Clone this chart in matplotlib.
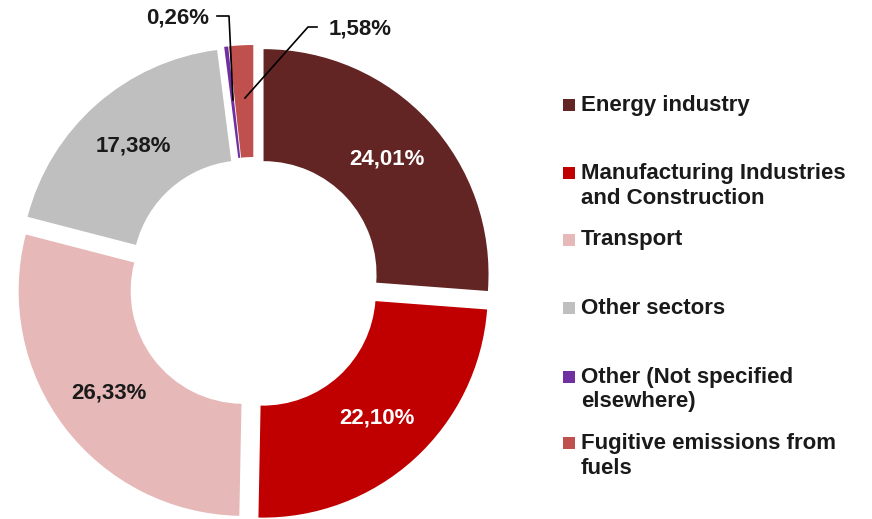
import matplotlib
matplotlib.use("Agg")
import matplotlib.pyplot as plt
from matplotlib.patches import Rectangle
import numpy as np

plt.rcParams['font.family'] = ['Liberation Sans', 'DejaVu Sans']

categories = ["Energy industry", "Manufacturing Industries\nand Construction", "Transport",
              "Other sectors", "Other (Not specified\nelsewhere)", "Fugitive emissions from\nfuels"]
values = [24.01, 22.10, 26.33, 17.38, 0.26, 1.58]
value_labels = ["24,01%", "22,10%", "26,33%", "17,38%", "0,26%", "1,58%"]
colors = ["#632523", "#C00000", "#E6B9B8", "#BFBFBF", "#7030A0", "#C0504D"]
label_colors = ["white", "white", "#1a1a1a", "#1a1a1a"]

W, H = 872, 519
fig = plt.figure(figsize=(W / 100, H / 100), dpi=100)
ax = fig.add_axes([0, 0, 1, 1])

R, r = 225, 113
wedges, _ = ax.pie(values, colors=colors, startangle=90, counterclock=False,
                   explode=[13] * len(values), radius=R, center=(254, H - 283),
                   wedgeprops=dict(width=R - r, linewidth=0))
ax.set_xlim(0, W)
ax.set_ylim(0, H)
ax.set_aspect('equal')
ax.axis('off')

# in-ring labels for the large slices
rmid = (R + r) / 2
for w, lab, c in zip(wedges[:4], value_labels[:4], label_colors):
    tm = np.deg2rad((w.theta1 + w.theta2) / 2)
    cx, cy = w.center
    ax.text(cx + rmid * np.cos(tm), cy + rmid * np.sin(tm), lab, color=c,
            fontsize=16, fontweight='bold', ha='center', va='center')

# leader-line labels for the small slices
ax.text(178, H - 18, value_labels[4], fontsize=16, fontweight='bold',
        ha='center', va='center', color='#1a1a1a')
ax.plot([217, 229, 233], [H - 16, H - 16, H - 100], color='black', lw=1.2)
ax.text(360, H - 29, value_labels[5], fontsize=16, fontweight='bold',
        ha='center', va='center', color='#1a1a1a')
ax.plot([317, 308, 245], [H - 27, H - 27, H - 98], color='black', lw=1.2)

# legend
legend_y = [105, 173, 240, 308, 377, 443]
for lab, col, y in zip(categories, colors, legend_y):
    ax.add_patch(Rectangle((563, H - y - 6), 12, 12, facecolor=col, edgecolor='none'))
    for i, line in enumerate(lab.split("\n")):
        ax.text(581, H - y - 25 * i, line, fontsize=16, fontweight='bold',
                ha='left', va='center', color='#1a1a1a')

fig.savefig("out.png", dpi=100)
